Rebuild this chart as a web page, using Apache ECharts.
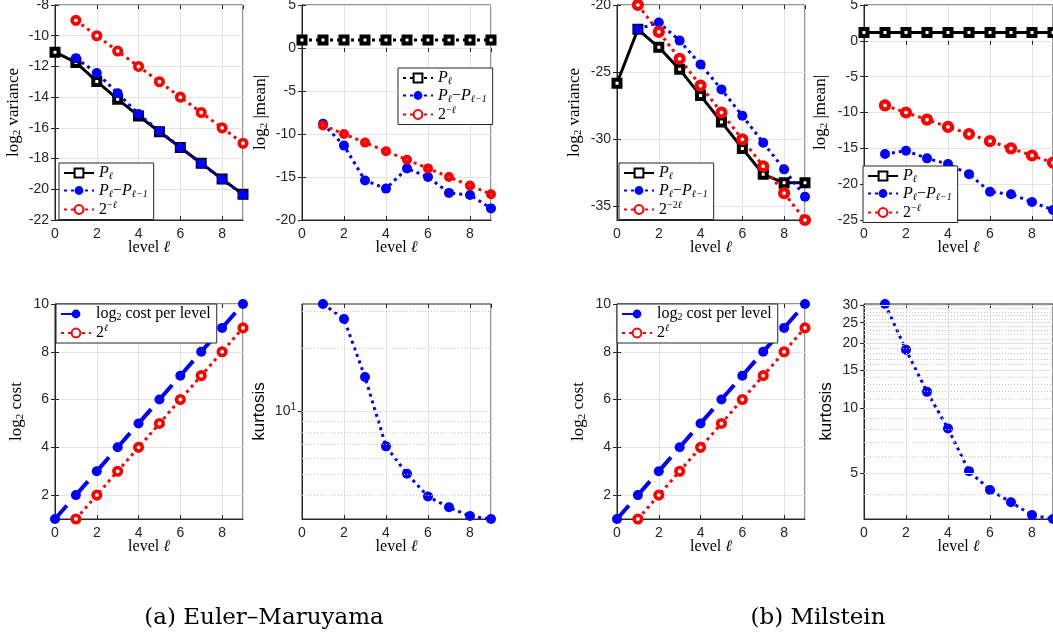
<!DOCTYPE html>
<html><head><meta charset="utf-8">
<script src="https://cdn.jsdelivr.net/npm/echarts@6/dist/echarts.min.js"></script>
<style>html,body{margin:0;padding:0;background:#fff}#c{width:1053px;height:640px}</style>
</head><body><div id="c"></div>
<script>
// ---------------- data ----------------
const levels = [0,1,2,3,4,5,6,7,8,9];
// (a) Euler–Maruyama
const emVarP   = [-11.07,-11.74,-12.98,-14.13,-15.22,-16.25,-17.28,-18.30,-19.33,-20.33];
const emVarDP  = [null,-11.46,-12.43,-13.74,-15.10,-16.20,-17.28,-18.33,-19.35,-20.35];
const emVarRef = [null,-9,-10,-11,-12,-13,-14,-15,-16,-17];
const emMeanP   = [0.94,0.94,0.94,0.94,0.94,0.94,0.94,0.94,0.94,0.94];
const emMeanDP  = [null,-8.8,-11.35,-15.4,-16.35,-14.0,-15.0,-16.85,-17.1,-18.65];
const emMeanRef = [null,-9,-10,-11,-12,-13,-14,-15,-16,-17];
const emCost    = [1,2,3,4,5,6,7,8,9,10];
const emCostRef = [null,1,2,3,4,5,6,7,8,9];
const emKurt    = [null,32.4,27.5,14.56,6.82,5.05,3.94,3.50,3.18,3.08];
// (b) Milstein
const miVarP   = [-25.82,-21.81,-23.15,-24.79,-26.74,-28.70,-30.67,-32.60,-33.23,-33.23];
const miVarDP  = [null,-21.8,-21.3,-22.65,-24.42,-26.28,-28.24,-30.25,-32.23,-34.27];
const miVarRef = [null,-20,-22,-24,-26,-28,-30,-32,-34,-36];
const miMeanP   = [1.15,1.15,1.15,1.15,1.15,1.15,1.15,1.15,1.15,1.15];
const miMeanDP  = [null,-15.8,-15.33,-16.4,-17.2,-18.6,-21.07,-21.4,-22.5,-23.6];
const miMeanRef = [null,-9,-10,-11,-12,-13,-14,-15,-16,-17];
const miCost    = [1,2,3,4,5,6,7,8,9,10];
const miCostRef = [null,1,2,3,4,5,6,7,8,9];
const miKurt    = [null,30.5,18.7,11.95,8.08,5.13,4.20,3.68,3.21,3.08];
// tick values
const miVarTicks  = [-35,-30,-25,-20];
const costTicks   = [2,4,6,8,10];
const emKurtTicks = [10];
const emKurtMinor = [4,5,6,7,8,9,20,30];
const miKurtTicks = [5,10,15,20,25,30];
const miKurtMinor = [4,6,7,8,9,11,12,13,14,16,17,18,19,21,22,23,24,26,27,28,29];

// ---------------- style ----------------
const SANS = "'Liberation Sans', Arial, Helvetica, sans-serif";
const SERIF = "'Liberation Serif', 'DejaVu Serif', serif";
const AX = '#262626', GC = '#e3e3e3', MC = '#c4c4c4';
const BLUE = '#0000ff', RED = '#ff0000', BLACK = '#000000';
const DOT = [3,4];

function mathRich(fs){
  const sm = Math.round(fs*0.65);
  return {
    n:{fontFamily:SERIF,fontSize:fs,color:'#000'},
    i:{fontFamily:SERIF,fontSize:fs,fontStyle:'italic',color:'#000'},
    s:{fontFamily:SERIF,fontSize:sm,fontStyle:'italic',color:'#000',padding:[Math.round(fs*0.45),0,0,0]},
    u:{fontFamily:SERIF,fontSize:sm,color:'#000',padding:[Math.round(fs*0.45),0,0,0]},
    p:{fontFamily:SERIF,fontSize:sm,color:'#000',padding:[0,0,Math.round(fs*0.55),0]},
    pi:{fontFamily:SERIF,fontSize:sm,fontStyle:'italic',color:'#000',padding:[0,0,Math.round(fs*0.55),0]}
  };
}
const TXT = {
  P:'{i|P}{s|ℓ}',
  D:'{i|P}{s|ℓ}{n|−}{i|P}{s|ℓ−1}',
  R1:'{n|2}{p|−}{pi|ℓ}',
  R2:'{n|2}{p|−2}{pi|ℓ}',
  C:'{n|log}{u|2}{n| cost per level}',
  C2:'{n|2}{pi|ℓ}'
};

const G = [
  {left:55, top:5, width:188, height:215},
  {left:302,top:5, width:189, height:215},
  {left:617,top:5, width:188, height:215},
  {left:864,top:5, width:189, height:215},
  {left:55, top:304,width:188, height:215},
  {left:302,top:304,width:189, height:215},
  {left:617,top:304,width:188, height:215},
  {left:864,top:304,width:189, height:215}
];

function merge(a, extra){
  for (const k in extra){
    if (a[k] && typeof a[k]==='object' && !Array.isArray(a[k]) && typeof extra[k]==='object' && !Array.isArray(extra[k])) a[k] = Object.assign({}, a[k], extra[k]);
    else a[k] = extra[k];
  }
  return a;
}
function xAx(gi){
  return {
    type:'value', gridIndex:gi, min:0, max:9, interval:2, position:'bottom',
    axisLine:{show:true,onZero:false,lineStyle:{color:AX,width:1}},
    axisTick:{show:true,inside:true,length:4,lineStyle:{color:AX}},
    axisLabel:{color:AX,fontFamily:SANS,fontSize:14,margin:7,showMaxLabel:false},
    splitLine:{show:true,lineStyle:{color:GC,width:1}},
    name:'{n|level} {i|ℓ}', nameLocation:'middle', nameGap:20, nameMoveOverlap:false,
    nameTextStyle:{fontFamily:SERIF,fontSize:16,color:'#000',rich:mathRich(16)}
  };
}
function xTop(gi){
  return {
    type:'value', gridIndex:gi, min:0, max:9, interval:2, position:'top',
    axisLine:{show:false}, axisLabel:{show:false}, splitLine:{show:false},
    axisTick:{show:true,inside:true,length:4,lineStyle:{color:AX}}
  };
}
function yAx(gi, extra){
  return merge({
    type:'value', gridIndex:gi, position:'left', nameLocation:'middle', nameRotate:90, nameMoveOverlap:false,
    axisLine:{show:true,onZero:false,lineStyle:{color:AX,width:1}},
    axisTick:{show:true,inside:true,length:4,lineStyle:{color:AX}},
    axisLabel:{color:AX,fontFamily:SANS,fontSize:14,margin:6},
    splitLine:{show:true,lineStyle:{color:GC,width:1}},
    nameTextStyle:{fontFamily:SERIF,fontSize:17,color:'#000',rich:mathRich(17)}
  }, extra);
}
function yRight(gi, extra){
  return merge({
    type:'value', gridIndex:gi, position:'right',
    axisLine:{show:false}, axisLabel:{show:false}, splitLine:{show:false},
    axisTick:{show:true,inside:true,length:4,lineStyle:{color:AX}}
  }, extra);
}
function pts(arr){ const out=[]; levels.forEach((l,k)=>{ if(arr[k]!=null) out.push([l,arr[k]]); }); return out; }
function ln(name, gi, arr, o){
  return {
    type:'line', name:name, xAxisIndex:gi, yAxisIndex:gi, data:pts(arr),
    symbol:o.sym, symbolSize:o.size, showSymbol:true, clip:false, z:3,
    lineStyle:{color:o.color,width:o.lw,type:o.type,cap:'butt'},
    itemStyle:{color:o.fill,borderColor:o.color,borderWidth:o.bw},
    emphasis:{disabled:true}, animation:false
  };
}
const S = {
  Psolid:{color:BLACK,lw:3,type:'solid',sym:'rect',size:7,fill:'#fff',bw:4},
  Pdot:{color:BLACK,lw:3,type:DOT,sym:'rect',size:7,fill:'#fff',bw:4},
  Dblue:{color:BLUE,lw:3,type:DOT,sym:'circle',size:10,fill:BLUE,bw:0},
  Rring:{color:RED,lw:3,type:DOT,sym:'circle',size:7.5,fill:'#fff',bw:3.6},
  RringF:{color:RED,lw:3,type:DOT,sym:'circle',size:5.5,fill:'#fff',bw:4.5},
  RringB:{color:RED,lw:3,type:DOT,sym:'circle',size:8,fill:'#fff',bw:4.2},
  Cblue:{color:BLUE,lw:4,type:[18,14],sym:'circle',size:10,fill:BLUE,bw:0},
  Kblue:{color:BLUE,lw:3,type:DOT,sym:'circle',size:10,fill:BLUE,bw:0}
};
function gridLines(gi, arr, vals, color, type){
  return {
    type:'line', xAxisIndex:gi, yAxisIndex:gi, data:pts(arr), symbol:'none', silent:true, z:1,
    lineStyle:{opacity:0}, emphasis:{disabled:true}, animation:false,
    markLine:{silent:true, symbol:['none','none'], label:{show:false}, animation:false, emphasis:{disabled:true},
      lineStyle:{color:color,width:1,type:type,opacity:1},
      data:vals.map(v=>({yAxis:v}))}
  };
}
function leg(names, left, top){
  return {
    show:true, data:names, left:left, top:top, orient:'vertical',
    itemWidth:30, itemHeight:11, itemGap:1, padding:[2,6,2,4],
    backgroundColor:'#fff', borderColor:AX, borderWidth:1, borderRadius:0, selectedMode:false,
    textStyle:{fontFamily:SERIF,fontSize:16,color:'#000',lineHeight:14,rich:mathRich(16)},
    formatter:n=>TXT[n.split('#')[0]]
  };
}

const yMain = [
  yAx(0,{min:-22,max:-8,interval:2,name:'{n|log}{u|2}{n| variance}',nameGap:32}),
  yAx(1,{min:-20,max:5,interval:5,name:'{n|log}{u|2}{n| |mean|}',nameGap:32}),
  yAx(2,{min:-36,max:-20,name:'{n|log}{u|2}{n| variance}',nameGap:33,
    axisTick:{customValues:miVarTicks},axisLabel:{customValues:miVarTicks}}),
  yAx(3,{min:-25,max:5,interval:5,name:'{n|log}{u|2}{n| |mean|}',nameGap:34}),
  yAx(4,{min:1,max:10,name:'{n|log}{u|2}{n| cost}',nameGap:29,
    axisTick:{customValues:costTicks},axisLabel:{customValues:costTicks}}),
  yAx(5,{type:'log',logBase:10,min:3.08,max:32.4,name:'kurtosis',nameGap:34,
    nameTextStyle:{fontFamily:SANS,fontSize:17,color:'#000'},
    splitLine:{show:false},
    axisTick:{customValues:emKurtTicks},
    axisLabel:{customValues:emKurtTicks,formatter:v=>'{b|10}{e|1}',
      rich:{b:{fontFamily:SANS,fontSize:14,color:AX},e:{fontFamily:SANS,fontSize:10,color:AX,padding:[0,0,9,0]}}}}),
  yAx(6,{min:1,max:10,name:'{n|log}{u|2}{n| cost}',nameGap:29,
    axisTick:{customValues:costTicks},axisLabel:{customValues:costTicks}}),
  yAx(7,{type:'log',logBase:10,min:3.08,max:30.5,name:'kurtosis',nameGap:29,
    nameTextStyle:{fontFamily:SANS,fontSize:17,color:'#000'},
    splitLine:{show:false},
    axisTick:{customValues:miKurtTicks},axisLabel:{customValues:miKurtTicks}})
];
const yR = [
  yRight(0,{min:-22,max:-8,interval:2}),
  yRight(1,{min:-20,max:5,interval:5}),
  yRight(2,{min:-36,max:-20,axisTick:{customValues:miVarTicks}}),
  yRight(3,{min:-25,max:5,interval:5}),
  yRight(4,{min:1,max:10,axisTick:{customValues:costTicks}}),
  yRight(5,{type:'log',logBase:10,min:3.08,max:32.4,axisTick:{customValues:emKurtTicks}}),
  yRight(6,{min:1,max:10,axisTick:{customValues:costTicks}}),
  yRight(7,{type:'log',logBase:10,min:3.08,max:30.5,axisTick:{customValues:miKurtTicks}})
];

const option = {
  animation:false,
  backgroundColor:'#fff',
  grid:G.map(g=>Object.assign({show:true,borderColor:AX,borderWidth:1,backgroundColor:'#fff',containLabel:false,outerBoundsMode:'none'},g)),
  xAxis:G.map((g,i)=>xAx(i)).concat(G.map((g,i)=>xTop(i))),
  yAxis:yMain.concat(yR),
  legend:[
    leg(['P#0','D#0','R1#0'],59,163),
    leg(['P#1','D#1','R1#1'],398,68),
    leg(['P#2','D#2','R2#2'],619,163),
    leg(['P#3','D#3','R1#3'],863,166),
    leg(['C#4','C2#4'],56,304),
    leg(['C#6','C2#6'],617,304)
  ],
  series:[
    ln('P#0',0,emVarP,S.Psolid), ln('D#0',0,emVarDP,S.Dblue), ln('R1#0',0,emVarRef,S.Rring),
    ln('P#1',1,emMeanP,S.Pdot), ln('D#1',1,emMeanDP,S.Dblue), ln('R1#1',1,emMeanRef,S.RringF),
    ln('P#2',2,miVarP,S.Psolid), ln('D#2',2,miVarDP,S.Dblue), ln('R2#2',2,miVarRef,S.RringB),
    ln('P#3',3,miMeanP,S.Psolid), ln('D#3',3,miMeanDP,S.Dblue), ln('R1#3',3,miMeanRef,S.RringB),
    ln('C#4',4,emCost,S.Cblue), ln('C2#4',4,emCostRef,S.Rring),
    gridLines(5,emKurt,emKurtMinor,MC,[1,2]), gridLines(5,emKurt,emKurtTicks,GC,'solid'),
    ln('K#5',5,emKurt,S.Kblue),
    ln('C#6',6,miCost,S.Cblue), ln('C2#6',6,miCostRef,S.Rring),
    gridLines(7,miKurt,miKurtMinor,MC,[1,2]), gridLines(7,miKurt,miKurtTicks,GC,'solid'),
    ln('K#7',7,miKurt,S.Kblue)
  ],
  graphic:[
    {type:'text',x:264,y:618,style:{text:'(a) Euler–Maruyama',fontFamily:"'DejaVu Serif', serif",fontSize:23,fill:'#000',align:'center',verticalAlign:'middle'}},
    {type:'text',x:818,y:618,style:{text:'(b) Milstein',fontFamily:"'DejaVu Serif', serif",fontSize:23,fill:'#000',align:'center',verticalAlign:'middle'}}
  ]
};
const chart = echarts.init(document.getElementById('c'));
chart.setOption(option);
</script>
</body></html>
